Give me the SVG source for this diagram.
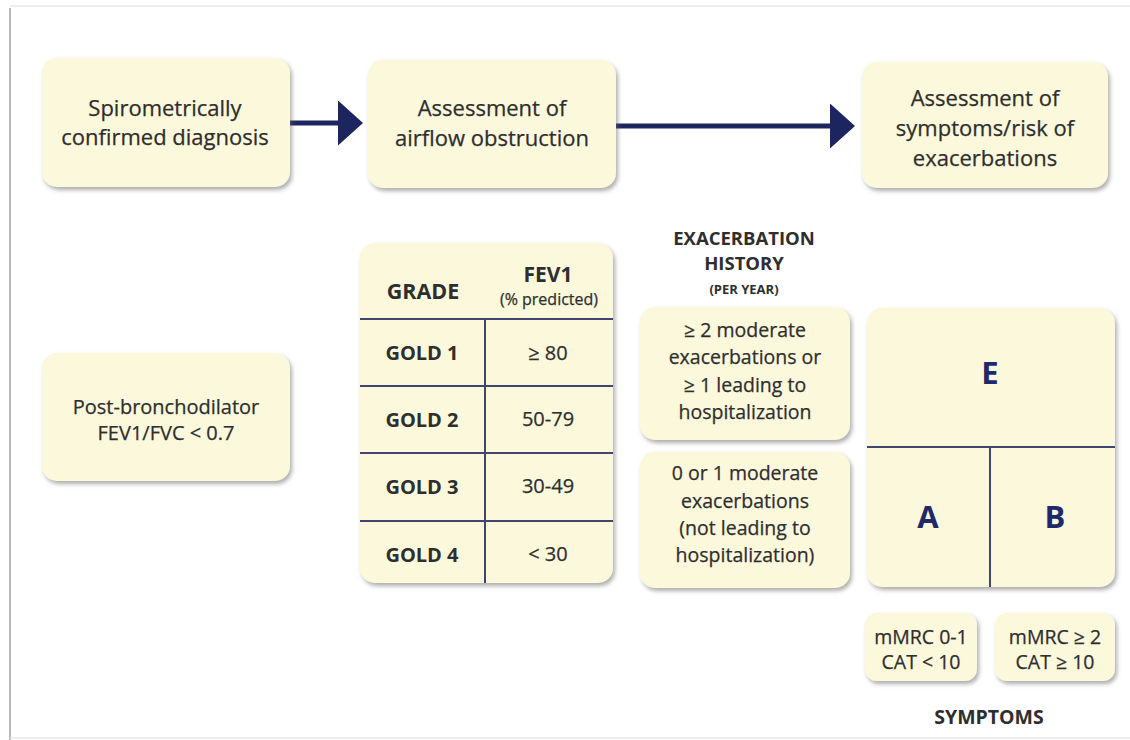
<svg xmlns="http://www.w3.org/2000/svg" width="1130" height="740" viewBox="0 0 1130 740">
<defs>
<filter id="sh" x="-10%" y="-10%" width="125%" height="130%">
<feDropShadow dx="2" dy="3" stdDeviation="2.2" flood-color="#6b6b6b" flood-opacity="0.55"/>
</filter>
<marker id="ah" viewBox="0 0 10 10" refX="0" refY="5" markerWidth="25" markerHeight="45" markerUnits="userSpaceOnUse" orient="auto" preserveAspectRatio="none">
<path d="M0,0 L10,5 L0,10 Z" fill="#1c2560"/>
</marker>
<style>
.box{fill:#fcf8dc;filter:url(#sh);}
.t{font-family:"Open Sans","Liberation Sans",sans-serif;fill:#2e2e2e;stroke:#2e2e2e;stroke-width:0.25;text-anchor:middle;}
.m{font-size:22px;}
.b{font-weight:bold;stroke-width:0;}
.big{font-family:"Open Sans","Liberation Sans",sans-serif;font-weight:bold;font-size:31px;fill:#1f2a6b;text-anchor:middle;}
.ln{stroke:#3f4770;stroke-width:2;fill:none;}
.conn{stroke:#1c2560;stroke-width:5;fill:none;}
</style>
</defs>
<rect x="0" y="0" width="1130" height="740" fill="#ffffff"/>
<g id="frame">
<line x1="10" y1="8" x2="10" y2="740" stroke="#b8b8b8" stroke-width="2"/>
<line x1="10" y1="6" x2="1130" y2="6" stroke="#e8e8e8" stroke-width="1.5"/>
<line x1="10" y1="738" x2="1130" y2="738" stroke="#e8e8e8" stroke-width="1.5"/>
</g>
<g id="connectors">
<line class="conn" x1="290" y1="123" x2="338" y2="123" marker-end="url(#ah)"/>
<line class="conn" x1="616" y1="126" x2="830" y2="126" marker-end="url(#ah)"/>
</g>
<g id="n-diagnosis">
<rect class="box" x="42" y="58" width="248" height="129" rx="15"/>
<text class="t m" x="165" y="116">Spirometrically</text>
<text class="t m" x="165" y="145">confirmed diagnosis</text>
</g>
<g id="n-airflow">
<rect class="box" x="368" y="60" width="248" height="128" rx="15"/>
<text class="t m" x="492" y="116">Assessment of</text>
<text class="t m" x="492" y="146">airflow obstruction</text>
</g>
<g id="n-symptoms-risk">
<rect class="box" x="862" y="62" width="246" height="126" rx="15"/>
<text class="t m" x="985" y="106">Assessment of</text>
<text class="t m" x="985" y="136">symptoms/risk of</text>
<text class="t m" x="985" y="166">exacerbations</text>
</g>
<g id="n-postbd">
<rect class="box" x="42" y="353" width="248" height="128" rx="15"/>
<text class="t" font-size="20" x="166" y="414">Post-bronchodilator</text>
<text class="t" font-size="20" x="166" y="440">FEV1/FVC &lt; 0.7</text>
</g>
<g id="n-gold-table">
<rect class="box" x="360" y="243" width="253" height="340" rx="15"/>
<line class="ln" x1="360" y1="319" x2="613" y2="319"/>
<line class="ln" x1="360" y1="386" x2="613" y2="386"/>
<line class="ln" x1="360" y1="453" x2="613" y2="453"/>
<line class="ln" x1="360" y1="521" x2="613" y2="521"/>
<line class="ln" x1="485" y1="319" x2="485" y2="583"/>
<text class="t b" font-size="21.5" x="423" y="299">GRADE</text>
<text class="t b" font-size="21" x="548" y="282">FEV1</text>
<text class="t" font-size="16" x="549" y="305">(% predicted)</text>
<text class="t b" font-size="20" x="422" y="360">GOLD 1</text>
<text class="t" font-size="20" x="548" y="360">≥ 80</text>
<text class="t b" font-size="20" x="422" y="427">GOLD 2</text>
<text class="t" font-size="20" x="548" y="426">50-79</text>
<text class="t b" font-size="20" x="422" y="494">GOLD 3</text>
<text class="t" font-size="20" x="548" y="493">30-49</text>
<text class="t b" font-size="20" x="422" y="562">GOLD 4</text>
<text class="t" font-size="20" x="548" y="561">&lt; 30</text>
</g>
<g id="n-exac-header">
<text class="t b" font-size="18.5" x="744" y="245">EXACERBATION</text>
<text class="t b" font-size="18.5" x="744" y="270">HISTORY</text>
<text class="t b" font-size="13" x="744" y="294">(PER YEAR)</text>
</g>
<g id="n-exac-high">
<rect class="box" x="640" y="307" width="210" height="133" rx="15"/>
<text class="t" font-size="19.5" x="745" y="337">≥ 2 moderate</text>
<text class="t" font-size="19.5" x="745" y="364">exacerbations or</text>
<text class="t" font-size="19.5" x="745" y="392">≥ 1 leading to</text>
<text class="t" font-size="19.5" x="745" y="419">hospitalization</text>
</g>
<g id="n-exac-low">
<rect class="box" x="640" y="452" width="210" height="136" rx="15"/>
<text class="t" font-size="19.5" x="745" y="480">0 or 1 moderate</text>
<text class="t" font-size="19.5" x="745" y="508">exacerbations</text>
<text class="t" font-size="19.5" x="745" y="535">(not leading to</text>
<text class="t" font-size="19.5" x="745" y="562">hospitalization)</text>
</g>
<g id="n-groups">
<rect class="box" x="867" y="308" width="248" height="279" rx="15"/>
<line class="ln" x1="867" y1="447" x2="1115" y2="447"/>
<line class="ln" x1="990" y1="447" x2="990" y2="587"/>
<text class="big" x="990" y="384">E</text>
<text class="big" x="928" y="528">A</text>
<text class="big" x="1055" y="528">B</text>
</g>
<g id="n-mmrc-low">
<rect class="box" x="865" y="613" width="112" height="68" rx="12"/>
<text class="t" font-size="19.5" x="921" y="644">mMRC 0-1</text>
<text class="t" font-size="19.5" x="921" y="669">CAT &lt; 10</text>
</g>
<g id="n-mmrc-high">
<rect class="box" x="995" y="613" width="120" height="68" rx="12"/>
<text class="t" font-size="19.5" x="1055" y="644">mMRC ≥ 2</text>
<text class="t" font-size="19.5" x="1055" y="669">CAT ≥ 10</text>
</g>
<g id="n-symptoms-label">
<text class="t b" font-size="19.5" x="989" y="724">SYMPTOMS</text>
</g>
</svg>
